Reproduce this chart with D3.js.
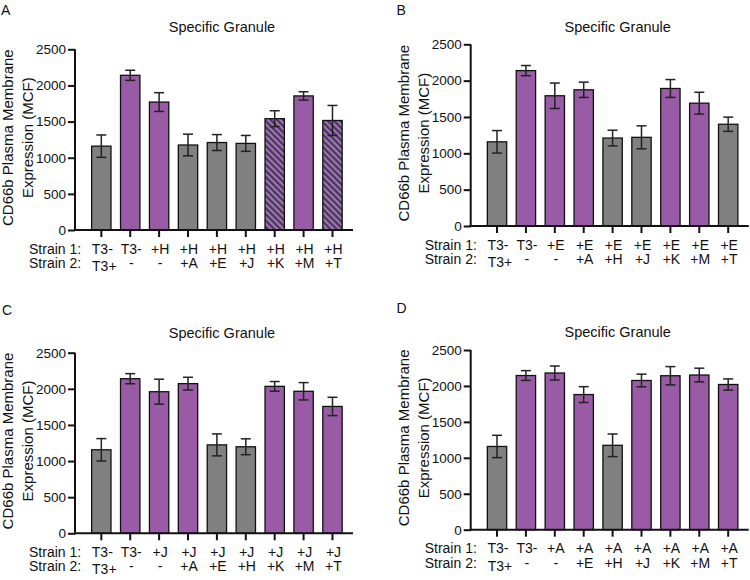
<!DOCTYPE html>
<html>
<head>
<meta charset="utf-8">
<script src="https://cdn.jsdelivr.net/npm/d3@7"></script>
<style>
  html, body { margin: 0; padding: 0; background: #fff; }
  svg { display: block; font-family: "Liberation Sans", Arial, Helvetica, sans-serif; }
</style>
</head>
<body>
<svg id="chart" width="750" height="580"></svg>
<script>
// ---------- data ----------
const panelLetters = ["A", "B", "C", "D"];
const chartTitle = "Specific Granule";
const yLabelLines = ["CD66b Plasma Membrane", "Expression (MCF)"];
const rowLabels = ["Strain 1:", "Strain 2:"];
const yTicks = [0, 500, 1000, 1500, 2000, 2500];

const strain1A = ["T3-", "T3-", "+H", "+H", "+H", "+H", "+H", "+H", "+H"];
const strain2A = ["T3+", "-", "-", "+A", "+E", "+J", "+K", "+M", "+T"];
const valuesA = [1160, 2140, 1770, 1176, 1210, 1198, 1540, 1855, 1515];
const errorsA = [155, 70, 130, 150, 110, 110, 110, 58, 208];
const groupsA = ["grey", "purple", "purple", "grey", "grey", "grey", "hatched", "purple", "hatched"];

const strain1B = ["T3-", "T3-", "+E", "+E", "+E", "+E", "+E", "+E", "+E"];
const strain2B = ["T3+", "-", "-", "+A", "+H", "+J", "+K", "+M", "+T"];
const valuesB = [1158, 2138, 1792, 1874, 1210, 1220, 1892, 1690, 1400];
const errorsB = [155, 70, 175, 105, 108, 158, 123, 150, 98];
const groupsB = ["grey", "purple", "purple", "purple", "grey", "grey", "purple", "purple", "grey"];

const strain1C = ["T3-", "T3-", "+J", "+J", "+J", "+J", "+J", "+J", "+J"];
const strain2C = ["T3+", "-", "-", "+A", "+E", "+H", "+K", "+M", "+T"];
const valuesC = [1156, 2140, 1960, 2072, 1224, 1198, 2034, 1966, 1756];
const errorsC = [155, 70, 173, 88, 152, 110, 67, 120, 127];
const groupsC = ["grey", "purple", "purple", "purple", "grey", "grey", "purple", "purple", "purple"];

const strain1D = ["T3-", "T3-", "+A", "+A", "+A", "+A", "+A", "+A", "+A"];
const strain2D = ["T3+", "-", "-", "+E", "+H", "+J", "+K", "+M", "+T"];
const valuesD = [1158, 2145, 2180, 1880, 1174, 2076, 2142, 2152, 2020];
const errorsD = [155, 68, 97, 110, 157, 88, 127, 95, 78];
const groupsD = ["grey", "purple", "purple", "purple", "grey", "purple", "purple", "purple", "purple"];

// ---------- layout ----------
const panels = [
  { s1: strain1A, s2: strain2A, v: valuesA, e: errorsA, g: groupsA, x0: 75,    y0: 230,   yTop: 49.3, titleY: 31.5, lx: 1,     ly: 15 },
  { s1: strain1B, s2: strain2B, v: valuesB, e: errorsB, g: groupsB, x0: 470.7, y0: 226,   yTop: 44.3, titleY: 31.5, lx: 396.5, ly: 15 },
  { s1: strain1C, s2: strain2C, v: valuesC, e: errorsC, g: groupsC, x0: 75,    y0: 533.3, yTop: 352.7, titleY: 338, lx: 2,     ly: 315 },
  { s1: strain1D, s2: strain2D, v: valuesD, e: errorsD, g: groupsD, x0: 470.7, y0: 529.7, yTop: 350,  titleY: 336.5, lx: 396.5, ly: 313 }
];

const colors = { grey: "#808080", purple: "#9a5ba6", hatchDark: "#5c2580", hatchLight: "#8c8c8c" };

const svg = d3.select("#chart");

// hatch pattern
const defs = svg.append("defs");
const pat = defs.append("pattern")
  .attr("id", "hatch")
  .attr("patternUnits", "userSpaceOnUse")
  .attr("width", 4.4).attr("height", 4.4)
  .attr("patternTransform", "rotate(-45)");
pat.append("rect").attr("width", 4.4).attr("height", 4.4).attr("fill", colors.hatchLight);
pat.append("rect").attr("width", 2.3).attr("height", 4.4).attr("fill", colors.hatchDark);

function fillFor(g) {
  if (g === "hatched") return "url(#hatch)";
  return colors[g];
}

panels.forEach((p, pi) => {
  const cats = d3.range(p.v.length);
  const x = d3.scaleBand().domain(cats).range([p.x0 + 7.1, p.x0 + 276.7]).padding(0.33);
  const y = d3.scaleLinear().domain([0, 2500]).range([p.y0, p.yTop]);
  const g = svg.append("g");

  // panel letter
  g.append("text").attr("x", p.lx).attr("y", p.ly)
    .attr("font-size", 14).attr("fill", "#111").text(panelLetters[pi]);

  // title
  g.append("text").attr("x", p.x0 + 147).attr("y", p.titleY)
    .attr("text-anchor", "middle").attr("font-size", 14.5).attr("fill", "#111")
    .text(chartTitle);

  // y label
  const cy = (p.y0 + p.yTop) / 2 - 2;
  yLabelLines.forEach((line, li) => {
    const lxp = p.x0 - 67 + li * 20 + 5;
    g.append("text")
      .attr("transform", `translate(${lxp},${cy}) rotate(-90)`)
      .attr("text-anchor", "middle").attr("font-size", 15).attr("fill", "#111")
      .text(line);
  });

  // bars
  g.selectAll("rect.bar").data(cats).join("rect")
    .attr("class", "bar")
    .attr("x", i => x(i))
    .attr("y", i => y(p.v[i]))
    .attr("width", x.bandwidth())
    .attr("height", i => y(0) - y(p.v[i]))
    .attr("fill", i => fillFor(p.g[i]))
    .attr("stroke", "#111").attr("stroke-width", 1.3);

  // error bars
  const eb = g.selectAll("g.err").data(cats).join("g").attr("class", "err")
    .attr("stroke", "#222").attr("stroke-width", 1.5).attr("fill", "none");
  eb.append("line")
    .attr("x1", i => x(i) + x.bandwidth() / 2).attr("x2", i => x(i) + x.bandwidth() / 2)
    .attr("y1", i => y(p.v[i] + p.e[i])).attr("y2", i => y(p.v[i] - p.e[i]));
  eb.append("line")
    .attr("x1", i => x(i) + x.bandwidth() / 2 - 5).attr("x2", i => x(i) + x.bandwidth() / 2 + 5)
    .attr("y1", i => y(p.v[i] + p.e[i])).attr("y2", i => y(p.v[i] + p.e[i]));
  eb.append("line")
    .attr("x1", i => x(i) + x.bandwidth() / 2 - 5).attr("x2", i => x(i) + x.bandwidth() / 2 + 5)
    .attr("y1", i => y(p.v[i] - p.e[i])).attr("y2", i => y(p.v[i] - p.e[i]));

  // y axis
  const ya = g.append("g").attr("transform", `translate(${p.x0},0)`)
    .call(d3.axisLeft(y).tickValues(yTicks).tickSize(7).tickPadding(2).tickFormat(d3.format("d")));
  ya.select(".domain").attr("stroke", "#111").attr("stroke-width", 2).attr("d", `M0,${p.y0 + 1}V${p.yTop}`);
  ya.selectAll(".tick line").attr("stroke", "#111").attr("stroke-width", 2);
  ya.selectAll(".tick text").attr("font-size", 13.5).attr("fill", "#111")
    .attr("font-family", "Liberation Sans, Arial, sans-serif");

  // x axis
  const xa = g.append("g").attr("transform", `translate(0,${p.y0})`)
    .call(d3.axisBottom(x).tickSize(7).tickFormat(""));
  xa.select(".domain").attr("stroke", "#111").attr("stroke-width", 2)
    .attr("d", `M${p.x0 - 1},0H${p.x0 + 278}`);
  xa.selectAll(".tick line").attr("stroke", "#111").attr("stroke-width", 2);
  xa.selectAll(".tick text").remove();

  // row labels
  rowLabels.forEach((rl, ri) => {
    g.append("text").attr("x", p.x0 - 46).attr("y", p.y0 + 23.5 + ri * 14.5)
      .attr("font-size", 14).attr("fill", "#111").text(rl);
  });
  // category labels
  g.selectAll("text.s1").data(cats).join("text").attr("class", "s1")
    .attr("x", i => x(i) + x.bandwidth() / 2 + 1).attr("y", p.y0 + 23.5)
    .attr("text-anchor", "middle").attr("font-size", 14).attr("fill", "#111")
    .text(i => p.s1[i]);
  g.selectAll("text.s2").data(cats).join("text").attr("class", "s2")
    .attr("x", i => x(i) + x.bandwidth() / 2 + (i === 0 ? 3 : 1))
    .attr("y", i => p.y0 + 38 + (i === 0 ? 3 : 0))
    .attr("text-anchor", "middle").attr("font-size", 14).attr("fill", "#111")
    .text(i => p.s2[i]);
});
</script>
</body>
</html>
